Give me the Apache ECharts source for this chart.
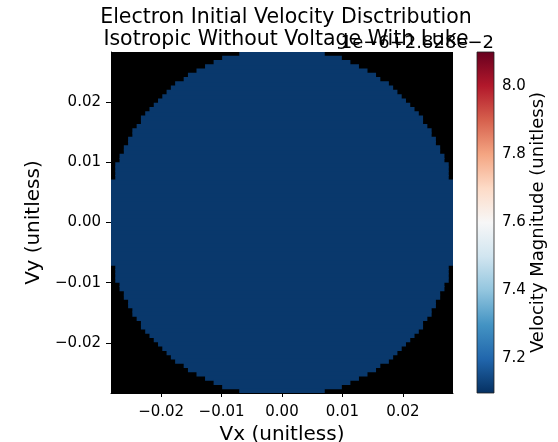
<!DOCTYPE html>
<html><head><meta charset="utf-8">
<script src="https://cdn.jsdelivr.net/npm/echarts@6/dist/echarts.min.js"></script>
<style>html,body{margin:0;padding:0;background:#fff}#c{width:558px;height:442px}</style>
</head><body><div id="c"></div>
<script>
// ---- data ----
const titleText = 'Electron Initial Velocity Disctribution\nIsotropic Without Voltage With Luke';
const offsetText = '1e\u22126+2.828e\u22122';
const xTicks = [-0.02, -0.01, 0.00, 0.01, 0.02];
const yTicks = [-0.02, -0.01, 0.00, 0.01, 0.02];
const cbTicks = [7.2, 7.4, 7.6, 7.8, 8.0];
const axisRange = [-0.0283, 0.0283];
const cbRange = [7.097, 8.1];
const gridBins = 80;
// filled half-width (in cells) of each row of the 80x80 image, from the centre row outward
const rowHalfCells = [40,40,40,40,40,40,40,40,40,40,39,39,39,39,38,38,37,37,36,36,35,35,34,33,33,32,31,30,29,28,27,26,25,23,22,20,18,16,14,10];
const cellValue = 7.112; // velocity magnitude, x1e-6 + 2.828e-2
const rdbuR = ['#053061','#2166ac','#4393c3','#92c5de','#d1e5f0','#f7f7f7','#fddbc7','#f4a582','#d6604d','#b2182b','#67001f'];

// ---- build cells (row runs) ----
const cell = (axisRange[1] - axisRange[0]) / gridBins;
const cells = [];
rowHalfCells.forEach((n, j) => {
  const x0 = -n * cell, x1 = n * cell;
  cells.push([x0, x1, j * cell, (j + 1) * cell, cellValue]);
  cells.push([x0, x1, -(j + 1) * cell, -j * cell, cellValue]);
});
const colorOf = v => echarts.color.lerp((v - cbRange[0]) / (cbRange[1] - cbRange[0]), rdbuR);

const fmt = v => (v < -1e-12 ? '\u2212' : '') + Math.abs(v).toFixed(2);
const FONT = 'DejaVu Sans';
const chart = echarts.init(document.getElementById('c'), null, {renderer: 'canvas'});
chart.setOption({
  animation: false,
  backgroundColor: '#fff',
  textStyle: {fontFamily: FONT, color: '#000'},
  title: {
    text: titleText, left: 281, top: 2, textAlign: 'center',
    textStyle: {fontFamily: FONT, fontSize: 20.5, fontWeight: 'normal', color: '#000', lineHeight: 21.5}
  },
  graphic: [{
    type: 'text', right: 558 - 494, top: 34,
    style: {text: offsetText, font: '18px "DejaVu Sans"', fill: '#000'}
  }],
  grid: [
    {left: 111, top: 52, width: 342, height: 341, show: true, backgroundColor: '#000', borderWidth: 0,
     outerBoundsMode: 'none', containLabel: false},
    {left: 477, top: 52, width: 17, height: 341, show: false, outerBoundsMode: 'none', containLabel: false}
  ],
  xAxis: [{
    type: 'value', gridIndex: 0, min: axisRange[0], max: axisRange[1],
    axisLine: {show: true, onZero: false, lineStyle: {color: '#000'}},
    axisTick: {show: true, length: 4, customValues: xTicks, lineStyle: {color: '#000'}},
    axisLabel: {customValues: xTicks, formatter: fmt, fontSize: 15, color: '#000', margin: 12, fontFamily: FONT},
    splitLine: {show: false},
    name: 'Vx (unitless)', nameLocation: 'middle', nameGap: 29,
    nameTextStyle: {fontSize: 20, color: '#000', fontFamily: FONT}
  }, {
    type: 'value', gridIndex: 1, min: 0, max: 1, show: false
  }],
  yAxis: [{
    type: 'value', gridIndex: 0, min: axisRange[0], max: axisRange[1],
    axisLine: {show: true, onZero: false, lineStyle: {color: '#000'}},
    axisTick: {show: true, length: 5, customValues: yTicks, lineStyle: {color: '#000'}},
    axisLabel: {customValues: yTicks, formatter: fmt, fontSize: 15, color: '#000', margin: 10, fontFamily: FONT},
    splitLine: {show: false},
    name: 'Vy (unitless)', nameLocation: 'middle', nameGap: 66, nameRotate: 90,
    nameTextStyle: {fontSize: 20, color: '#000', fontFamily: FONT}
  }, {
    type: 'value', gridIndex: 1, min: cbRange[0], max: cbRange[1], position: 'right',
    axisLine: {show: false},
    axisTick: {show: true, length: 4, customValues: cbTicks, lineStyle: {color: '#000'}},
    axisLabel: {customValues: cbTicks, formatter: v => v.toFixed(1), fontSize: 15, color: '#000', margin: 8, fontFamily: FONT},
    splitLine: {show: false},
    name: 'Velocity Magnitude (unitless)', nameLocation: 'middle', nameGap: 35, nameRotate: 90,
    nameTextStyle: {fontSize: 18, color: '#000', fontFamily: FONT}
  }],
  series: [{
    type: 'custom', xAxisIndex: 0, yAxisIndex: 0, data: cells, clip: true,
    encode: {x: [0, 1], y: [2, 3]},
    renderItem: function (params, api) {
      const p0 = api.coord([api.value(0), api.value(3)]);
      const p1 = api.coord([api.value(1), api.value(2)]);
      const c = colorOf(api.value(4));
      return {type: 'rect', shape: {x: p0[0], y: p0[1] - 0.5, width: p1[0] - p0[0], height: p1[1] - p0[1] + 1},
              style: {fill: c}};
    }
  }, {
    type: 'custom', xAxisIndex: 1, yAxisIndex: 1, data: [[0, 1, cbRange[0], cbRange[1]]],
    encode: {x: [0, 1], y: [2, 3]},
    renderItem: function (params, api) {
      const p0 = api.coord([api.value(0), api.value(3)]);
      const p1 = api.coord([api.value(1), api.value(2)]);
      const stops = rdbuR.map((c, i) => ({offset: i / (rdbuR.length - 1), color: c}));
      return {type: 'rect', shape: {x: p0[0], y: p0[1], width: p1[0] - p0[0], height: p1[1] - p0[1]},
              style: {fill: new echarts.graphic.LinearGradient(0, 1, 0, 0, stops), stroke: '#222', lineWidth: 0.8}};
    }
  }]
});
</script></body></html>
